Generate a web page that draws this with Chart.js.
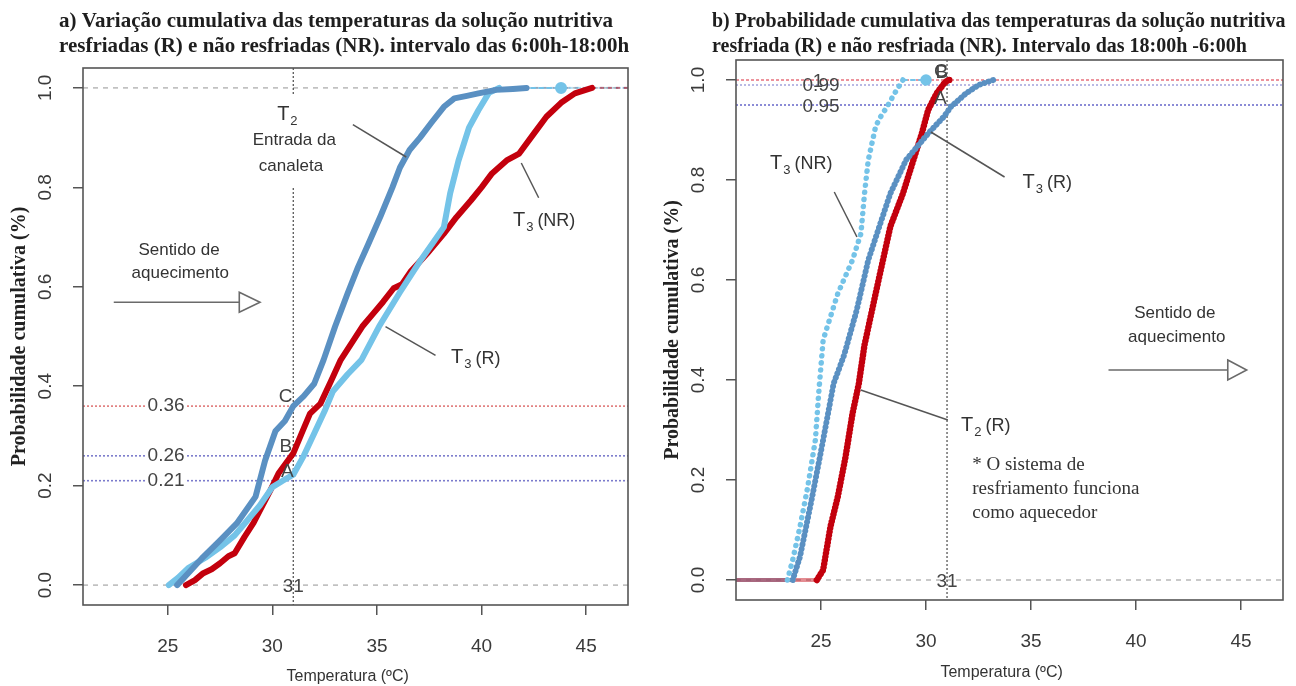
<!DOCTYPE html>
<html>
<head>
<meta charset="utf-8">
<script src="https://cdn.jsdelivr.net/npm/chart.js@4.4.1/dist/chart.umd.min.js"></script>
<style>
  html, body { margin: 0; padding: 0; background: #fff; }
  #wrap { position: relative; width: 1296px; height: 686px; overflow: hidden; }
  #cvA { position: absolute; left: 0; top: 0; }
  #cvB { position: absolute; left: 650px; top: 0; }
</style>
</head>
<body>
<div id="wrap">
  <canvas id="cvA" width="650" height="686"></canvas>
  <canvas id="cvB" width="646" height="686"></canvas>
</div>
<script>
// ticks comuns aos dois graficos
var tempTicks = [25, 30, 35, 40, 45];
var probTicks = [0, 0.2, 0.4, 0.6, 0.8, 1.0];
var tempLimite = 31;

// a) intervalo 6:00h-18:00h
var a_T2_temp = [25.45, 26.0, 26.7, 27.5, 28.3, 29.2, 29.65, 30.15, 30.6, 31.0, 31.5, 32.0, 32.45, 33.0, 33.6, 34.1, 34.6, 35.2, 35.74, 36.1, 36.56, 37.06, 37.6, 38.2, 38.7, 39.3, 39.85, 40.7, 41.5, 42.15];
var a_T2_prob = [0.0, 0.025, 0.057, 0.09, 0.124, 0.178, 0.25, 0.31, 0.33, 0.36, 0.38, 0.405, 0.453, 0.52, 0.587, 0.64, 0.687, 0.745, 0.80, 0.84, 0.875, 0.90, 0.93, 0.962, 0.979, 0.984, 0.989, 0.996, 0.998, 1.0];
var a_T3R_temp = [25.05, 25.5, 26.0, 26.8, 27.5, 28.2, 28.8, 29.4, 30.0, 30.5, 31.0, 31.5, 32.0, 32.5, 32.9, 33.6, 34.26, 35.1, 36.07, 37.1, 38.2, 38.5, 38.9, 39.4, 39.85, 40.35, 40.84, 43.8];
var a_T3R_prob = [0.0, 0.015, 0.035, 0.055, 0.076, 0.1, 0.13, 0.16, 0.197, 0.21, 0.222, 0.26, 0.305, 0.35, 0.39, 0.424, 0.453, 0.52, 0.587, 0.654, 0.72, 0.788, 0.854, 0.92, 0.955, 0.99, 1.0, 1.0];
var a_T3NR_temp = [25.87, 26.3, 26.7, 27.1, 27.5, 27.9, 28.2, 28.67, 29.1, 29.5, 29.9, 30.3, 30.65, 31.0, 31.4, 31.8, 32.3, 32.8, 33.27, 34.3, 34.8, 35.3, 35.8, 36.2, 36.6, 37.4, 38.2, 38.8, 39.5, 40.0, 40.5, 41.2, 41.8, 42.5, 43.1, 43.8, 44.46, 45.28];
var a_T3NR_prob = [0.0, 0.01, 0.024, 0.032, 0.044, 0.058, 0.064, 0.097, 0.125, 0.158, 0.19, 0.225, 0.245, 0.265, 0.305, 0.345, 0.365, 0.41, 0.453, 0.52, 0.545, 0.57, 0.597, 0.605, 0.63, 0.667, 0.707, 0.74, 0.774, 0.80, 0.828, 0.854, 0.868, 0.908, 0.942, 0.97, 0.989, 1.0];
var a_refProb = [0.36, 0.26, 0.21];

// b) intervalo 18:00h-6:00h
var b_T3NR_temp = [23.4, 23.65, 24.0, 24.37, 24.73, 24.9, 25.1, 25.3, 25.8, 26.5, 26.9, 27.07, 27.25, 27.6, 27.8, 28.15, 28.5, 28.9, 30.0];
var b_T3NR_prob = [0.0, 0.04, 0.107, 0.187, 0.28, 0.38, 0.48, 0.507, 0.573, 0.64, 0.693, 0.773, 0.84, 0.907, 0.924, 0.947, 0.973, 1.0, 1.0];
var b_T3R_temp = [23.65, 24.0, 24.55, 25.1, 25.6, 26.1, 26.7, 27.25, 27.8, 28.3, 29.05, 30.1, 30.86, 31.2, 31.9, 32.5, 33.2];
var b_T3R_prob = [0.0, 0.047, 0.16, 0.28, 0.393, 0.45, 0.54, 0.64, 0.71, 0.773, 0.84, 0.893, 0.927, 0.947, 0.973, 0.99, 1.0];
var b_T2R_temp = [24.8, 25.1, 25.45, 25.8, 26.17, 26.5, 26.8, 27.07, 27.6, 28.3, 28.9, 29.4, 29.8, 30.1, 30.5, 30.86, 31.04, 31.2];
var b_T2R_prob = [0.0, 0.02, 0.107, 0.167, 0.247, 0.333, 0.393, 0.47, 0.573, 0.707, 0.773, 0.84, 0.893, 0.94, 0.973, 0.993, 1.0, 1.0];
var b_refProb = [1.0, 0.99, 0.95];

var AZUL = '#5a90c2';
var AZUL_CLARO = '#74c3e8';
var VERMELHO = '#c3000d';
var SANS = '"Liberation Sans", Arial, sans-serif';
var SERIF = '"Liberation Serif", "Times New Roman", serif';

function pontos(temps, probs) {
  return temps.map(function (t, i) { return { x: t, y: probs[i] }; });
}

function serie(temps, probs, cor, extra) {
  return Object.assign({
    data: pontos(temps, probs),
    borderColor: cor,
    backgroundColor: cor,
    borderWidth: 6,
    pointRadius: 0,
    tension: 0,
    fill: false,
    borderCapStyle: 'round',
    borderJoinStyle: 'round'
  }, extra || {});
}

// trecho final em 1.0 tracejado e fino
var caudaFina = {
  borderDash: function (c) { return (c.p0.parsed.y >= 1 && c.p1.parsed.y >= 1) ? [4, 4] : undefined; },
  borderWidth: function (c) { return (c.p0.parsed.y >= 1 && c.p1.parsed.y >= 1) ? 2 : undefined; }
};

function P(chart, x, y) {
  return { x: chart.scales.x.getPixelForValue(x), y: chart.scales.y.getPixelForValue(y) };
}

function linhaH(chart, v, cor, dash, w) {
  var ctx = chart.ctx, a = chart.chartArea;
  var y = chart.scales.y.getPixelForValue(v);
  ctx.save();
  ctx.strokeStyle = cor; ctx.lineWidth = w; ctx.setLineDash(dash);
  ctx.beginPath(); ctx.moveTo(a.left, y); ctx.lineTo(a.right, y); ctx.stroke();
  ctx.restore();
}

function linhaV(chart, v, cor, dash, w) {
  var ctx = chart.ctx, a = chart.chartArea;
  var x = chart.scales.x.getPixelForValue(v);
  ctx.save();
  ctx.strokeStyle = cor; ctx.lineWidth = w; ctx.setLineDash(dash);
  ctx.beginPath(); ctx.moveTo(x, a.top); ctx.lineTo(x, a.bottom); ctx.stroke();
  ctx.restore();
}

function segmento(chart, x1, y1, x2, y2, cor, dash, w) {
  var ctx = chart.ctx, p1 = P(chart, x1, y1), p2 = P(chart, x2, y2);
  ctx.save();
  ctx.strokeStyle = cor; ctx.lineWidth = w; ctx.setLineDash(dash || []);
  ctx.beginPath(); ctx.moveTo(p1.x, p1.y); ctx.lineTo(p2.x, p2.y); ctx.stroke();
  ctx.restore();
}

function texto(chart, str, x, y, font, cor, align, fundo) {
  var ctx = chart.ctx, p = P(chart, x, y);
  ctx.save();
  ctx.font = font; ctx.textAlign = align || 'center'; ctx.textBaseline = 'middle';
  if (fundo) {
    var w = ctx.measureText(str).width;
    var x0 = align === 'left' ? p.x : p.x - w / 2;
    ctx.fillStyle = '#fff';
    ctx.fillRect(x0 - 2, p.y - 8, w + 4, 16);
  }
  ctx.fillStyle = cor;
  ctx.fillText(str, p.x, p.y);
  ctx.restore();
}

// rotulo "T" com indice e complemento, alinhado a esquerda
function rotuloT(chart, sub, resto, x, y) {
  var ctx = chart.ctx, p = P(chart, x, y);
  ctx.save();
  ctx.fillStyle = '#333'; ctx.textBaseline = 'middle'; ctx.textAlign = 'left';
  ctx.font = '20px ' + SANS;
  ctx.fillText('T', p.x, p.y);
  var cx = p.x + ctx.measureText('T').width + 1;
  ctx.font = '13px ' + SANS;
  ctx.fillText(sub, cx, p.y + 7);
  cx += ctx.measureText(sub).width + 4;
  if (resto) {
    ctx.font = '18px ' + SANS;
    ctx.fillText(resto, cx, p.y + 1);
  }
  ctx.restore();
}

function seta(chart, x1, xBase, xPonta, y) {
  var ctx = chart.ctx;
  var a = P(chart, x1, y), b = P(chart, xBase, y), c = P(chart, xPonta, y);
  ctx.save();
  ctx.strokeStyle = '#6a6a6a'; ctx.lineWidth = 1.6;
  ctx.beginPath(); ctx.moveTo(a.x, a.y); ctx.lineTo(b.x, b.y); ctx.stroke();
  ctx.fillStyle = '#fff';
  ctx.beginPath();
  ctx.moveTo(b.x, b.y - 10); ctx.lineTo(c.x, c.y); ctx.lineTo(b.x, b.y + 10); ctx.closePath();
  ctx.fill(); ctx.stroke();
  ctx.restore();
}

function caixaBranca(chart, x1, y1, x2, y2) {
  var p1 = P(chart, x1, y1), p2 = P(chart, x2, y2);
  chart.ctx.save();
  chart.ctx.fillStyle = '#fff';
  chart.ctx.fillRect(p1.x, p1.y, p2.x - p1.x, p2.y - p1.y);
  chart.ctx.restore();
}

// moldura, rotulos do eixo y (girados), titulos
var moldura = {
  id: 'moldura',
  afterDraw: function (chart) {
    var ctx = chart.ctx, a = chart.chartArea, y = chart.scales.y;
    var o = chart.options.plugins.moldura;
    ctx.save();
    ctx.strokeStyle = '#555'; ctx.lineWidth = 1.6; ctx.setLineDash([]);
    ctx.strokeRect(a.left, a.top, a.right - a.left, a.bottom - a.top);

    ctx.font = '19px ' + SANS; ctx.fillStyle = '#3a3a3a';
    ctx.textAlign = 'center'; ctx.textBaseline = 'middle';
    y.ticks.forEach(function (t) {
      ctx.save();
      ctx.translate(a.left - 37, y.getPixelForValue(t.value));
      ctx.rotate(-Math.PI / 2);
      ctx.fillText(t.value.toFixed(1), 0, 0);
      ctx.restore();
    });

    ctx.save();
    ctx.font = 'bold 20px ' + SERIF; ctx.fillStyle = '#222';
    ctx.translate(a.left - 63, (a.top + a.bottom) / 2);
    ctx.rotate(-Math.PI / 2);
    ctx.fillText('Probabilidade cumulativa (%)', 0, 0);
    ctx.restore();

    ctx.font = '16px ' + SANS; ctx.fillStyle = '#333';
    ctx.fillText('Temperatura (\u00baC)', chart.scales.x.getPixelForValue(33.6), a.bottom + o.xTituloY);

    ctx.font = 'bold ' + o.tituloTam + 'px ' + SERIF; ctx.fillStyle = '#1e1e1e'; ctx.textAlign = 'left';
    o.titulo.forEach(function (l, i) { ctx.fillText(l, a.left - 24, 22 + i * 25); });
    ctx.restore();
  }
};

var decorA = {
  id: 'decorA',
  beforeDatasetsDraw: function (chart) {
    linhaH(chart, 1, '#b8b8b8', [5, 5], 1.5);
    linhaH(chart, 0, '#b8b8b8', [5, 5], 1.5);
    linhaH(chart, a_refProb[0], '#e07878', [2, 2], 1.6);
    linhaH(chart, a_refProb[1], '#7b7bcc', [2, 2], 1.6);
    linhaH(chart, a_refProb[2], '#7b7bcc', [2, 2], 1.6);
    linhaV(chart, tempLimite, '#4a4a4a', [2, 2], 1.2);
    caixaBranca(chart, 28.9, 0.986, 33.3, 0.80);
    // caudas em 1.0 depois da ultima observacao
    [[a_T2_temp, AZUL], [a_T3R_temp, AZUL_CLARO], [a_T3NR_temp, VERMELHO]].forEach(function (s) {
      chart.ctx.save();
      chart.ctx.globalAlpha = 0.5;
      segmento(chart, s[0][s[0].length - 1], 1, chart.scales.x.max, 1, s[1], [4, 4], 2);
      chart.ctx.restore();
    });
  },
  afterDatasetsDraw: function (chart) {
    var f = '19px ' + SANS;
    a_refProb.forEach(function (v) { texto(chart, v.toFixed(2), 24.92, v, f, '#444', 'center', true); });
    texto(chart, 'C', 30.64, 0.378, f, '#444');
    texto(chart, 'B', 30.64, 0.278, f, '#444');
    texto(chart, 'A', 30.72, 0.227, f, '#444');
    texto(chart, String(tempLimite), 31.0, -0.004, f, '#444');

    rotuloT(chart, '2', '', 30.23, 0.946);
    texto(chart, 'Entrada da', 31.05, 0.895, '17px ' + SANS, '#333');
    texto(chart, 'canaleta', 30.89, 0.843, '17px ' + SANS, '#333');
    segmento(chart, 33.85, 0.926, 36.4, 0.861, '#555', [], 1.5);

    rotuloT(chart, '3', '(NR)', 41.5, 0.734);
    segmento(chart, 41.9, 0.849, 42.73, 0.779, '#555', [], 1.5);

    rotuloT(chart, '3', '(R)', 38.54, 0.457);
    segmento(chart, 35.41, 0.52, 37.8, 0.462, '#555', [], 1.5);

    texto(chart, 'Sentido de', 25.54, 0.674, '17px ' + SANS, '#333');
    texto(chart, 'aquecimento', 25.6, 0.628, '17px ' + SANS, '#333');
    seta(chart, 22.42, 28.42, 29.41, 0.569);
  }
};

var decorB = {
  id: 'decorB',
  beforeDatasetsDraw: function (chart) {
    linhaH(chart, 0, '#b8b8b8', [5, 5], 1.5);
    linhaH(chart, b_refProb[2], '#7f7fd2', [2, 2], 1.8);
    linhaH(chart, b_refProb[1], '#a3a3dc', [2, 2], 1.5);
    linhaH(chart, b_refProb[0], '#e8707c', [3, 2], 1.6);
    linhaV(chart, tempLimite, '#4a4a4a', [2, 2], 1.2);
    // trecho em 0 antes da primeira observacao
    [[b_T3NR_temp, AZUL_CLARO], [b_T3R_temp, AZUL], [b_T2R_temp, VERMELHO]].forEach(function (s) {
      chart.ctx.save();
      chart.ctx.globalAlpha = 0.45;
      segmento(chart, chart.scales.x.min, 0, s[0][0], 0, s[1], [], 4);
      chart.ctx.restore();
    });
  },
  afterDatasetsDraw: function (chart) {
    var f = '19px ' + SANS;
    texto(chart, '0.99', 25.0, 0.988, f, '#444');
    texto(chart, '1', 24.86, 0.996, f, '#444');
    texto(chart, '0.95', 25.0, 0.946, f, '#444');
    texto(chart, 'C', 30.71, 1.016, f, '#444');
    texto(chart, 'B', 30.75, 1.014, f, '#444');
    texto(chart, 'A', 30.68, 0.962, f, '#444');
    texto(chart, String(tempLimite), 31.0, -0.004, f, '#444');

    rotuloT(chart, '3', '(NR)', 22.57, 0.834);
    segmento(chart, 25.63, 0.776, 26.71, 0.686, '#555', [], 1.5);

    rotuloT(chart, '3', '(R)', 34.6, 0.796);
    segmento(chart, 30.23, 0.896, 33.74, 0.806, '#555', [], 1.5);

    rotuloT(chart, '2', '(R)', 31.67, 0.31);
    segmento(chart, 26.89, 0.38, 31.04, 0.32, '#555', [], 1.5);

    var fs = '19px ' + SERIF;
    texto(chart, '* O sistema de', 32.2, 0.23, fs, '#333', 'left');
    texto(chart, 'resfriamento funciona', 32.2, 0.182, fs, '#333', 'left');
    texto(chart, 'como aquecedor', 32.2, 0.134, fs, '#333', 'left');

    texto(chart, 'Sentido de', 41.85, 0.534, '17px ' + SANS, '#333');
    texto(chart, 'aquecimento', 41.94, 0.486, '17px ' + SANS, '#333');
    seta(chart, 38.69, 44.37, 45.27, 0.42);
  }
};

function opcoes(pad, alturaX, titulo, tituloTam, xTituloY) {
  return {
    responsive: false,
    animation: false,
    events: [],
    layout: { autoPadding: false, padding: pad },
    plugins: {
      legend: { display: false },
      tooltip: { enabled: false },
      moldura: { titulo: titulo, tituloTam: tituloTam, xTituloY: xTituloY }
    },
    scales: {
      x: {
        type: 'linear', min: 20.95, max: 47.0,
        afterBuildTicks: function (s) { s.ticks = tempTicks.map(function (v) { return { value: v }; }); },
        afterFit: function (s) { s.height = alturaX; },
        grid: { display: true, drawOnChartArea: false, drawTicks: true, tickLength: 10, color: '#555', lineWidth: 1.5 },
        border: { display: false },
        ticks: { font: { family: SANS, size: 19 }, color: '#3a3a3a', padding: 20, maxRotation: 0 }
      },
      y: {
        type: 'linear', min: -0.04, max: 1.04,
        afterBuildTicks: function (s) { s.ticks = probTicks.map(function (v) { return { value: v }; }); },
        afterFit: function (s) { s.width = pad.yLargura; },
        grid: { display: true, drawOnChartArea: false, drawTicks: true, tickLength: 10, color: '#555', lineWidth: 1.5 },
        border: { display: false },
        ticks: { display: false }
      }
    }
  };
}

var padA = { left: 0, top: 68, right: 22, bottom: 0, yLargura: 83 };
new Chart(document.getElementById('cvA'), {
  type: 'line',
  data: {
    datasets: [
      serie(a_T2_temp, a_T2_prob, AZUL),
      serie(a_T3R_temp, a_T3R_prob, AZUL_CLARO, {
        segment: caudaFina,
        pointRadius: a_T3R_temp.map(function (_, i) { return i === a_T3R_temp.length - 1 ? 3 : 0; })
      }),
      serie(a_T3NR_temp, a_T3NR_prob, VERMELHO)
    ]
  },
  options: opcoes(padA, 81, [
    'a) Varia\u00e7\u00e3o cumulativa das temperaturas da solu\u00e7\u00e3o nutritiva',
    'resfriadas (R) e n\u00e3o resfriadas (NR). intervalo das 6:00h-18:00h'
  ], 21, 72),
  plugins: [decorA, moldura]
});

var padB = { left: 0, top: 60, right: 13, bottom: 0, yLargura: 86 };
new Chart(document.getElementById('cvB'), {
  type: 'line',
  data: {
    datasets: [
      serie(b_T3NR_temp, b_T3NR_prob, AZUL_CLARO, {
        borderWidth: 5.5, borderDash: [0.1, 7], segment: caudaFina,
        pointRadius: b_T3NR_temp.map(function (_, i) { return i === b_T3NR_temp.length - 1 ? 3 : 0; })
      }),
      serie(b_T3R_temp, b_T3R_prob, AZUL, { borderDash: [0.1, 4.5] }),
      serie(b_T2R_temp, b_T2R_prob, VERMELHO, { borderWidth: 6.5, borderDash: [0.1, 3.5] })
    ]
  },
  options: opcoes(padB, 86, [
    'b) Probabilidade cumulativa das temperaturas da solu\u00e7\u00e3o nutritiva',
    'resfriada (R) e n\u00e3o resfriada (NR). Intervalo das 18:00h -6:00h'
  ], 20, 73),
  plugins: [decorB, moldura]
});
</script>
</body>
</html>
